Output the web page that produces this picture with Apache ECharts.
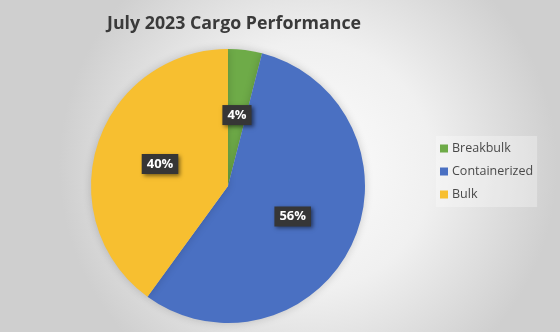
<!DOCTYPE html>
<html>
<head>
<meta charset="utf-8">
<script src="https://cdn.jsdelivr.net/npm/echarts@6/dist/echarts.min.js"></script>
<style>
html,body{margin:0;padding:0;}
#c{width:560px;height:332px;}
</style>
</head>
<body>
<div id="c"></div>
<script>
const titleText = 'July 2023 Cargo Performance';
const categories = ['Breakbulk', 'Containerized', 'Bulk'];
const values = [4, 56, 40];
const colors = ['#6eab48', '#4a70c2', '#f7bf30'];

const chart = echarts.init(document.getElementById('c'), null, {renderer: 'canvas'});
chart.setOption({
  backgroundColor: {
    type: 'radial', x: 0.55, y: 0.5, r: 0.75,
    colorStops: [
      {offset: 0, color: '#fdfdfd'},
      {offset: 0.5, color: '#f0f0f0'},
      {offset: 1, color: '#cfcfcf'}
    ]
  },
  animation: false,
  title: {
    text: titleText,
    left: 102, top: 10,
    textStyle: {fontFamily: 'Open Sans', fontWeight: 'bold', fontSize: 17.8, color: '#3a3a3a'}
  },
  legend: {
    orient: 'vertical',
    left: 436, top: 136,
    itemWidth: 8, itemHeight: 8, itemGap: 10,
    icon: 'rect',
    padding: [6, 4, 6, 4],
    backgroundColor: 'rgba(255,255,255,0.3)',
    textStyle: {fontFamily: 'Open Sans', fontSize: 12.5, color: '#4a4a4a', padding: [0, 0, 0, -1]},
    data: categories
  },
  series: [{
    type: 'pie',
    center: [228, 186],
    radius: [0, 137],
    startAngle: 90,
    clockwise: true,
    percentPrecision: 0,
    itemStyle: {borderWidth: 0, shadowBlur: 8, shadowColor: 'rgba(0,0,0,0.18)'},
    label: {
      position: 'inside',
      formatter: '{d}%',
      color: '#ffffff',
      fontFamily: 'Open Sans', fontWeight: 'bold', fontSize: 13,
      backgroundColor: '#363636',
      padding: [4, 5, 3, 5],
      shadowColor: 'rgba(0,0,0,0.5)', shadowBlur: 4, shadowOffsetX: 2, shadowOffsetY: 2
    },
    labelLine: {show: false},
    emphasis: {disabled: true},
    data: categories.map((n, i) => ({name: n, value: values[i], itemStyle: {color: colors[i]}}))
  }]
});
</script>
</body>
</html>
